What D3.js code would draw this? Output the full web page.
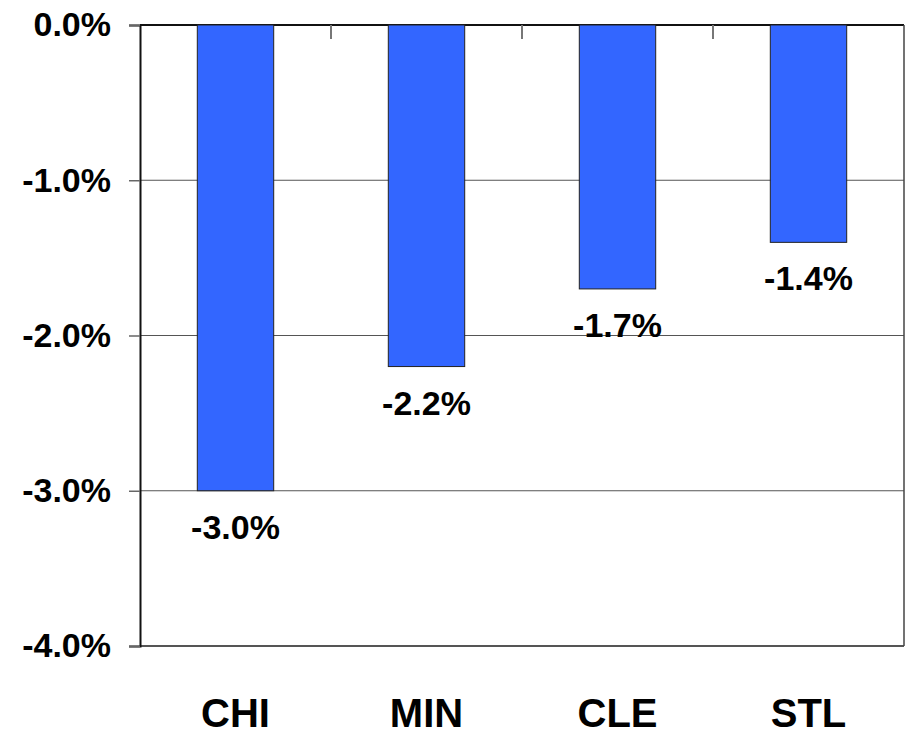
<!DOCTYPE html>
<html>
<head>
<meta charset="utf-8">
<script src="https://cdn.jsdelivr.net/npm/d3@7"></script>
<style>
  body { margin: 0; background: #fff; }
  text { font-family: "Liberation Sans", Arial, sans-serif; font-weight: bold; }
</style>
</head>
<body>
<div id="bar"></div>
<script>
// chart data
var regions = ["CHI", "MIN", "CLE", "STL"];
var changes = [-3.0, -2.2, -1.7, -1.4];
var yTicks = [0, -1, -2, -3, -4];

var W = 906, H = 734;
var margin = {top: 25, right: 2, bottom: 88, left: 140},
    w = W - margin.left - margin.right,
    h = H - margin.top - margin.bottom;

var svg = d3.select("#bar").append("svg")
    .attr("width", W)
    .attr("height", H)
  .append("g")
    .attr("transform", "translate(" + margin.left + "," + margin.top + ")");

// scales
var x = d3.scaleBand()
          .domain(regions)
          .range([0, w])
          .padding(0);
var y = d3.scaleLinear()
          .domain([0, -4])
          .range([0, h]);

var barW = x.bandwidth() * 0.4;
var fmt = function(v) { return v.toFixed(1) + "%"; };

// gridlines
svg.selectAll(".grid")
    .data(yTicks)
  .enter().append("line")
    .attr("x1", 0).attr("x2", w)
    .attr("y1", function(d) { return y(d); })
    .attr("y2", function(d) { return y(d); })
    .attr("stroke", function(d) { return d == 0 ? "#111" : "#555"; })
    .attr("stroke-width", function(d) { return d == 0 || d == -4 ? 2 : 1.2; });

// right border
svg.append("line")
    .attr("x1", w).attr("x2", w)
    .attr("y1", 0).attr("y2", h)
    .attr("stroke", "#444").attr("stroke-width", 1.5);

// y axis
var yAxis = svg.append("g")
    .call(d3.axisLeft(y).tickValues(yTicks).tickSize(11).tickFormat(fmt));
yAxis.select(".domain").attr("stroke", "#111").attr("stroke-width", 2);
yAxis.selectAll(".tick line").attr("stroke", "#666").attr("stroke-width", 1.5);
yAxis.selectAll(".tick text")
    .attr("x", -29)
    .attr("font-size", "34px")
    .attr("font-family", "Liberation Sans, Arial, sans-serif")
    .attr("fill", "#000");

// category divider ticks along the top
svg.selectAll(".divider")
    .data(regions.slice(1))
  .enter().append("line")
    .attr("x1", function(d) { return x(d); })
    .attr("x2", function(d) { return x(d); })
    .attr("y1", 0).attr("y2", 14)
    .attr("stroke", "#777").attr("stroke-width", 2);

// bars
svg.selectAll(".b")
    .data(regions)
  .enter().append("rect")
    .attr("class", "b")
    .attr("x", function(d) { return x(d) + (x.bandwidth() - barW) / 2; })
    .attr("width", barW)
    .attr("y", y(0))
    .attr("height", function(d, i) { return y(changes[i]) - y(0); })
    .attr("fill", "#3366FF")
    .attr("stroke", "#222")
    .attr("stroke-width", 1);

// value labels
svg.selectAll(".val")
    .data(regions)
  .enter().append("text")
    .text(function(d, i) { return fmt(changes[i]); })
    .attr("text-anchor", "middle")
    .attr("x", function(d) { return x(d) + x.bandwidth() / 2; })
    .attr("y", function(d, i) { return y(changes[i]) + 48; })
    .attr("font-size", "34px")
    .attr("fill", "#000");

// category labels
svg.selectAll(".cat")
    .data(regions)
  .enter().append("text")
    .text(function(d) { return d; })
    .attr("text-anchor", "middle")
    .attr("x", function(d) { return x(d) + x.bandwidth() / 2; })
    .attr("y", h + 81)
    .attr("font-size", "40px")
    .attr("fill", "#000");
</script>
</body>
</html>
